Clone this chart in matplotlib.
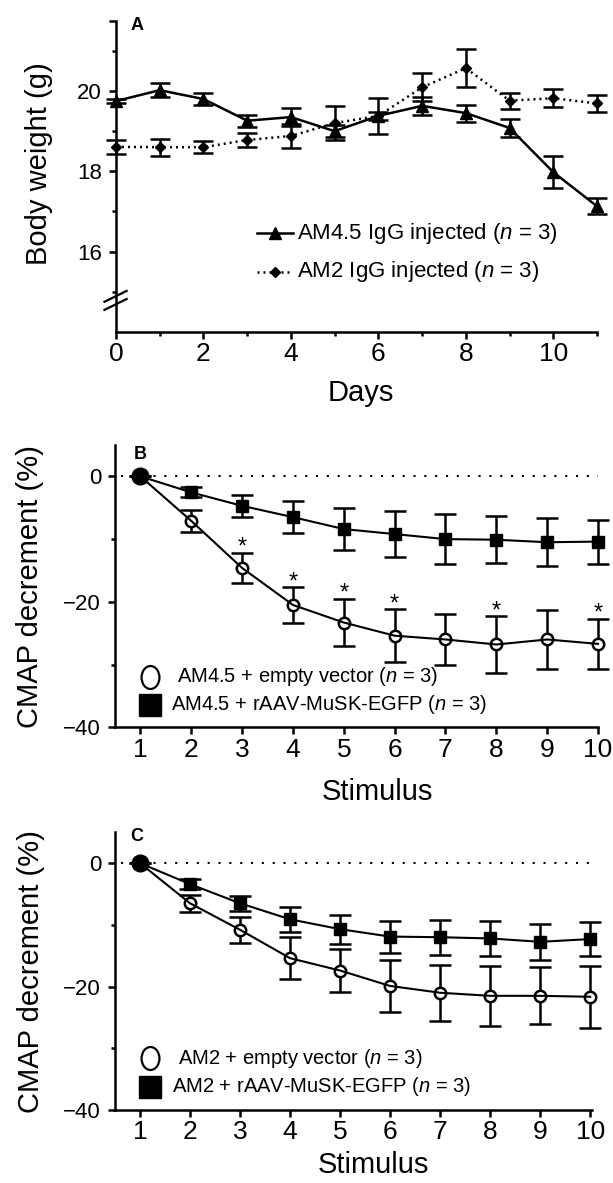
import matplotlib
matplotlib.use('Agg')
import matplotlib.pyplot as plt
from matplotlib.path import Path
from matplotlib.markers import MarkerStyle
from matplotlib.transforms import Affine2D

plt.rcParams['font.family'] = ['Liberation Sans', 'DejaVu Sans']
plt.rcParams['mathtext.fontset'] = 'custom'
plt.rcParams['mathtext.rm'] = 'Liberation Sans'
plt.rcParams['mathtext.it'] = 'Liberation Sans:italic'

# ---------------- data ----------------
days = list(range(12))
am45_weight = [19.75, 20.02, 19.80, 19.26, 19.35, 19.00, 19.38, 19.63, 19.45, 19.08, 17.98, 17.13]
am45_weight_err = [0.05, 0.18, 0.15, 0.15, 0.23, 0.15, 0.10, 0.22, 0.21, 0.22, 0.40, 0.20]
am2_weight = [18.61, 18.60, 18.60, 18.78, 18.88, 19.20, 19.38, 20.09, 20.57, 19.76, 19.82, 19.69]
am2_weight_err = [0.17, 0.21, 0.15, 0.17, 0.30, 0.42, 0.44, 0.35, 0.47, 0.20, 0.22, 0.22]

stimulus = list(range(1, 11))
b_empty = [0, -7.1, -14.6, -20.5, -23.3, -25.4, -26.0, -26.8, -26.0, -26.7]
b_empty_err = [0, 1.8, 2.45, 2.9, 3.8, 4.25, 4.1, 4.5, 4.75, 4.0]
b_musk = [0, -2.55, -4.7, -6.5, -8.4, -9.2, -10.0, -10.1, -10.5, -10.4]
b_musk_err = [0, 0.8, 1.8, 2.55, 3.3, 3.7, 3.95, 3.75, 3.85, 3.5]
b_significant = [3, 4, 5, 6, 8, 10]

c_empty = [0, -6.5, -10.8, -15.4, -17.4, -19.9, -21.0, -21.5, -21.5, -21.65]
c_empty_err = [0, 1.35, 2.1, 3.4, 3.5, 4.25, 4.5, 4.9, 4.6, 5.0]
c_musk = [0, -3.4, -6.5, -9.1, -10.7, -11.9, -12.0, -12.2, -12.75, -12.3]
c_musk_err = [0, 0.8, 1.2, 2.06, 2.36, 2.6, 2.85, 2.9, 2.9, 2.8]

a_labels = ['AM4.5 IgG injected ($\\it{n}$ = 3)', 'AM2 IgG injected ($\\it{n}$ = 3)']
b_labels = ['AM4.5 + empty vector ($\\it{n}$ = 3)', 'AM4.5 + rAAV-MuSK-EGFP ($\\it{n}$ = 3)']
c_labels = ['AM2 + empty vector ($\\it{n}$ = 3)', 'AM2 + rAAV-MuSK-EGFP ($\\it{n}$ = 3)']

# ---------------- style ----------------
LW = 1.8
XT = 19
YT = 16
LAB = 21
LEG_A = 16
LEG_BC = 14.5

fig = plt.figure(figsize=(6.13, 11.83), dpi=100)

def style_axes(ax):
    for s in ['top', 'right']:
        ax.spines[s].set_visible(False)
    for s in ['left', 'bottom']:
        ax.spines[s].set_linewidth(LW)
    ax.tick_params(which='major', direction='out', length=5, width=LW)
    ax.tick_params(which='minor', direction='out', length=3.2, width=LW)
    ax.tick_params(axis='x', labelsize=XT, pad=2.5)
    ax.tick_params(axis='y', labelsize=YT, pad=5)

# ================= Panel A =================
axA = fig.add_axes([116/613, 1-332/1183, 481/613, 311.3/1183])
style_axes(axA)
axA.errorbar(days, am45_weight, yerr=am45_weight_err, fmt='-^', color='k',
             lw=LW, ms=8, elinewidth=LW, capsize=7.5, capthick=LW, clip_on=False, zorder=4)
axA.errorbar(days, am2_weight, yerr=am2_weight_err, fmt='D', ls=(0, (0.8, 1.6)), color='k',
             lw=LW, ms=5.5, elinewidth=LW, capsize=7.5, capthick=LW, clip_on=False, zorder=3)
axA.set_xlim(0, 11)
axA.set_ylim(14, 21.75)
axA.set_xticks([0, 2, 4, 6, 8, 10])
axA.set_xticks([1, 3, 5, 7, 9, 11], minor=True)
axA.set_yticks([16, 18, 20, 21.75])
axA.set_yticklabels(['16', '18', '20', ''])
axA.set_yticks([15, 17, 19, 21], minor=True)
axA.set_xlabel('Days', fontsize=LAB)
axA.xaxis.set_label_coords(0.51, -0.152)
axA.set_ylabel('Body weight (g)', fontsize=LAB)
axA.yaxis.set_label_coords(-0.131, 0.541)
axA.text(0.043, 0.986, 'A', transform=axA.transAxes, fontsize=13, fontweight='bold',
         ha='center', va='center')
# axis break marks
for y0, y1 in [(0.097, 0.132), (0.071, 0.106)]:
    axA.plot([-0.024, 0.022], [y0, y1], transform=axA.transAxes, color='k', lw=1.6,
             clip_on=False, zorder=6)
# legend
axA.plot([0.293, 0.368], [0.318, 0.318], transform=axA.transAxes, color='k', lw=LW)
axA.plot([0.33], [0.318], transform=axA.transAxes, marker='^', color='k', ms=8)
axA.text(0.376, 0.318, a_labels[0], transform=axA.transAxes, fontsize=LEG_A, va='center')
axA.plot([0.293, 0.368], [0.193, 0.193], transform=axA.transAxes, color='k', lw=LW,
         ls=(0, (0.8, 1.6)))
axA.plot([0.33], [0.193], transform=axA.transAxes, marker='D', color='k', ms=5.5)
axA.text(0.376, 0.193, a_labels[1], transform=axA.transAxes, fontsize=LEG_A, va='center')

# ================= Panels B and C =================
ell = MarkerStyle(Path.unit_circle().transformed(Affine2D().scale(0.78, 1.0)))

def cmap_panel(rect, xmax, empty, empty_err, musk, musk_err, labels, letter, letter_pos,
               leg_pos, xlab_y, sig=None):
    ax = fig.add_axes(rect)
    style_axes(ax)
    ax.axhline(0, xmin=(0.62 - 0.5) / (xmax - 0.5), xmax=1.0, color='k', lw=1.5,
               ls=(0, (1, 4.2)), zorder=1)
    # rAAV-MuSK-EGFP (filled squares)
    ax.errorbar(stimulus, musk, yerr=musk_err, fmt='-s', color='k', lw=1.5, ms=8,
                elinewidth=LW, capsize=8, capthick=LW, clip_on=False, zorder=3)
    # empty vector (open circles)
    ax.errorbar(stimulus[1:], empty[1:], yerr=empty_err[1:], fmt='none', ecolor='k',
                elinewidth=LW, capsize=8, capthick=LW, clip_on=False, zorder=2)
    ax.plot(stimulus[1:], empty[1:], ls='none', marker='o', ms=8.2, mfc='white', mec='k',
            mew=1.8, clip_on=False, zorder=3)
    ax.plot(stimulus, empty, '-', color='k', lw=1.5, clip_on=False, zorder=4)
    ax.plot(stimulus[:1], empty[:1], 'o', color='k', ms=12, clip_on=False, zorder=5)
    if sig is not None:
        for s in sig:
            i = stimulus.index(s)
            ax.text(s, empty[i] + empty_err[i] - 0.2, '*', fontsize=17, ha='center',
                    va='baseline')
    ax.set_xlim(0.5, xmax)
    ax.set_ylim(-40, 5)
    ax.set_xticks(stimulus)
    ax.set_yticks([0, -20, -40])
    ax.set_yticks([-10, -30], minor=True)
    ax.set_xlabel('Stimulus', fontsize=LAB)
    ax.xaxis.set_label_coords(0.543, xlab_y)
    ax.set_ylabel('CMAP decrement (%)', fontsize=LAB)
    ax.yaxis.set_label_coords(-0.147, 0.5)
    ax.text(letter_pos[0], letter_pos[1], letter, transform=ax.transAxes, fontsize=13,
            fontweight='bold', ha='center', va='center')
    (mx, my1, my2, tx1, tx2) = leg_pos
    ax.plot([mx], [my1], transform=ax.transAxes, marker=ell, ms=16.5, mfc='white',
            mec='k', mew=1.6, clip_on=False)
    ax.text(tx1, my1, labels[0], transform=ax.transAxes, fontsize=LEG_BC, va='center')
    ax.plot([mx], [my2], transform=ax.transAxes, marker='s', ms=16, color='k', clip_on=False)
    ax.text(tx2, my2, labels[1], transform=ax.transAxes, fontsize=LEG_BC, va='center')
    return ax

axB = cmap_panel([115/613, 1-727.3/1183, 483/613, 282.3/1183], 10.0,
                 b_empty, b_empty_err, b_musk, b_musk_err, b_labels, 'B', (0.052, 0.965),
                 (0.0725, 0.179, 0.079, 0.128, 0.115), -0.178, sig=b_significant)
axC = cmap_panel([115/613, 1-1110/1183, 476.7/613, 277.7/1183], 10.03,
                 c_empty, c_empty_err, c_musk, c_musk_err, c_labels, 'C', (0.046, 0.984),
                 (0.0734, 0.187, 0.083, 0.132, 0.12), -0.147)

fig.savefig('out.png', dpi=100)
